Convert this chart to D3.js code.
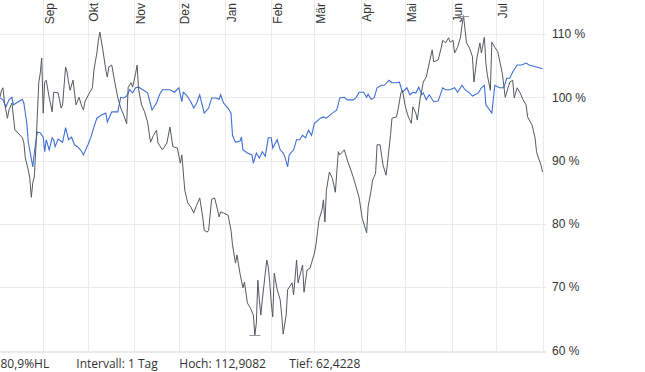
<!DOCTYPE html>
<html>
<head>
<meta charset="utf-8">
<script src="https://cdn.jsdelivr.net/npm/d3@7"></script>
<style>
  body { margin: 0; background: #fff; }
  svg { display: block; }
</style>
</head>
<body>
<div id="chart"></div>
<script>
"use strict"

/* month ticks on the time axis */
let monthTicks = ["2023-09-01", "2023-10-01", "2023-11-01", "2023-12-01", "2024-01-01", "2024-02-01",
  "2024-03-01", "2024-04-01", "2024-05-01", "2024-06-01", "2024-07-01"];
let monthLabels = ["Sep", "Okt", "Nov", "Dez", "Jan", "Feb", "Mär", "Apr", "Mai", "Jun", "Jul"];

/* percent ticks */
let yTicks = [60, 70, 80, 90, 100, 110];

/* stock, in percent (dark line) */
let stockSeries = [
  ["2023-08-03", 100.0], ["2023-08-04", 101.1], ["2023-08-05", 101.5], ["2023-08-06", 99.1],
  ["2023-08-08", 96.7], ["2023-08-09", 98.0], ["2023-08-11", 99.1], ["2023-08-12", 96.9],
  ["2023-08-13", 94.8], ["2023-08-15", 94.4], ["2023-08-18", 93.6], ["2023-08-19", 92.8],
  ["2023-08-20", 90.4], ["2023-08-22", 88.5], ["2023-08-23", 87.2], ["2023-08-24", 84.2],
  ["2023-08-25", 86.5], ["2023-08-26", 87.4], ["2023-08-27", 91.7], ["2023-08-28", 96.9],
  ["2023-08-29", 102.3], ["2023-08-30", 103.8], ["2023-08-31", 106.2], ["2023-09-01", 97.5],
  ["2023-09-02", 102.4], ["2023-09-03", 102.7], ["2023-09-05", 100.0], ["2023-09-07", 97.7],
  ["2023-09-08", 100.8], ["2023-09-11", 100.7], ["2023-09-13", 98.3], ["2023-09-14", 98.8],
  ["2023-09-16", 104.8], ["2023-09-17", 104.0], ["2023-09-18", 102.4], ["2023-09-19", 101.1],
  ["2023-09-21", 102.7], ["2023-09-22", 100.7], ["2023-09-23", 98.8], ["2023-09-25", 100.0],
  ["2023-09-27", 98.5], ["2023-09-28", 98.0], ["2023-09-29", 99.3], ["2023-10-02", 100.7],
  ["2023-10-04", 101.5], ["2023-10-05", 104.3], ["2023-10-07", 107.0], ["2023-10-08", 109.0],
  ["2023-10-09", 110.3], ["2023-10-11", 107.5], ["2023-10-13", 104.3], ["2023-10-14", 103.2],
  ["2023-10-15", 104.8], ["2023-10-17", 105.1], ["2023-10-19", 102.4], ["2023-10-21", 100.0],
  ["2023-10-23", 98.3], ["2023-10-25", 97.2], ["2023-10-27", 95.8], ["2023-10-28", 101.6],
  ["2023-10-30", 102.3], ["2023-10-31", 101.6], ["2023-11-02", 103.8], ["2023-11-03", 105.1],
  ["2023-11-04", 101.2], ["2023-11-06", 98.8], ["2023-11-08", 97.7], ["2023-11-10", 96.1],
  ["2023-11-12", 92.9], ["2023-11-14", 94.0], ["2023-11-16", 94.8], ["2023-11-17", 92.8],
  ["2023-11-20", 91.7], ["2023-11-23", 92.8], ["2023-11-25", 95.3], ["2023-11-27", 92.2],
  ["2023-11-30", 92.0], ["2023-12-02", 89.6], ["2023-12-03", 90.9], ["2023-12-05", 85.3],
  ["2023-12-07", 83.3], ["2023-12-09", 82.7], ["2023-12-11", 81.7], ["2023-12-13", 83.0],
  ["2023-12-15", 84.1], ["2023-12-17", 81.1], ["2023-12-18", 79.0], ["2023-12-20", 78.7],
  ["2023-12-21", 79.0], ["2023-12-23", 83.9], ["2023-12-25", 84.1], ["2023-12-27", 82.2],
  ["2023-12-28", 81.1], ["2023-12-29", 81.9], ["2023-12-31", 81.7], ["2024-01-03", 81.4],
  ["2024-01-05", 79.0], ["2024-01-06", 76.7], ["2024-01-08", 73.8], ["2024-01-09", 75.1],
  ["2024-01-11", 72.2], ["2024-01-13", 69.9], ["2024-01-14", 70.8], ["2024-01-16", 67.5],
  ["2024-01-18", 66.7], ["2024-01-20", 65.6], ["2024-01-21", 62.4228], ["2024-01-22", 64.3],
  ["2024-01-23", 71.1], ["2024-01-24", 68.0], ["2024-01-25", 65.6], ["2024-01-26", 68.0],
  ["2024-01-28", 72.2], ["2024-01-29", 74.3], ["2024-01-30", 73.2], ["2024-01-31", 70.7],
  ["2024-02-01", 67.5], ["2024-02-02", 65.3], ["2024-02-03", 72.2], ["2024-02-05", 69.6],
  ["2024-02-07", 68.0], ["2024-02-08", 65.6], ["2024-02-09", 62.6], ["2024-02-11", 65.6],
  ["2024-02-12", 69.6], ["2024-02-15", 70.7], ["2024-02-16", 68.8], ["2024-02-18", 74.3],
  ["2024-02-19", 70.7], ["2024-02-22", 73.5], ["2024-02-23", 69.2], ["2024-02-25", 72.7],
  ["2024-02-27", 73.0], ["2024-02-28", 73.8], ["2024-03-01", 75.4], ["2024-03-02", 76.7],
  ["2024-03-04", 80.6], ["2024-03-06", 82.2], ["2024-03-07", 83.8], ["2024-03-08", 80.3],
  ["2024-03-09", 85.3], ["2024-03-11", 88.2], ["2024-03-13", 87.2], ["2024-03-15", 85.0],
  ["2024-03-17", 91.4], ["2024-03-18", 90.9], ["2024-03-21", 91.7], ["2024-03-23", 90.1],
  ["2024-03-27", 87.4], ["2024-03-31", 84.1], ["2024-04-02", 80.9], ["2024-04-05", 78.6],
  ["2024-04-06", 82.7], ["2024-04-08", 85.3], ["2024-04-09", 86.9], ["2024-04-11", 88.0],
  ["2024-04-12", 92.5], ["2024-04-14", 92.5], ["2024-04-16", 89.3], ["2024-04-18", 87.7],
  ["2024-04-19", 89.6], ["2024-04-21", 94.0], ["2024-04-22", 96.7], ["2024-04-25", 96.9],
  ["2024-04-26", 98.0], ["2024-04-28", 100.7], ["2024-04-29", 101.1], ["2024-05-01", 98.5],
  ["2024-05-03", 96.9], ["2024-05-05", 95.9], ["2024-05-06", 98.5], ["2024-05-08", 97.5],
  ["2024-05-09", 96.4], ["2024-05-11", 100.0], ["2024-05-12", 101.1], ["2024-05-13", 102.4],
  ["2024-05-15", 103.2], ["2024-05-17", 105.4], ["2024-05-19", 107.5], ["2024-05-20", 105.6],
  ["2024-05-23", 105.9], ["2024-05-25", 107.8], ["2024-05-26", 109.0], ["2024-05-28", 108.6],
  ["2024-05-30", 109.4], ["2024-05-31", 108.7], ["2024-06-02", 109.0], ["2024-06-03", 107.0],
  ["2024-06-05", 107.9], ["2024-06-07", 109.5], ["2024-06-08", 111.4], ["2024-06-09", 112.9082],
  ["2024-06-11", 108.6], ["2024-06-13", 107.8], ["2024-06-15", 106.4], ["2024-06-16", 102.4],
  ["2024-06-18", 106.2], ["2024-06-20", 108.6], ["2024-06-21", 107.0], ["2024-06-23", 109.5],
  ["2024-06-24", 105.4], ["2024-06-25", 103.5], ["2024-06-27", 101.1], ["2024-06-28", 108.7],
  ["2024-06-30", 107.9], ["2024-07-02", 107.2], ["2024-07-05", 103.8], ["2024-07-07", 100.0],
  ["2024-07-10", 102.4], ["2024-07-12", 102.7], ["2024-07-13", 99.9], ["2024-07-15", 101.5],
  ["2024-07-17", 100.7], ["2024-07-19", 99.6], ["2024-07-21", 98.8], ["2024-07-22", 96.9],
  ["2024-07-25", 95.6], ["2024-07-27", 93.6], ["2024-07-28", 91.4], ["2024-07-29", 90.6],
  ["2024-07-31", 89.3], ["2024-08-01", 88.2]
];

/* benchmark, in percent (blue line) */
let benchSeries = [
  ["2023-08-03", 99.9], ["2023-08-05", 99.6], ["2023-08-07", 98.5], ["2023-08-09", 99.6],
  ["2023-08-11", 100.0], ["2023-08-12", 98.8], ["2023-08-14", 99.1], ["2023-08-18", 99.7],
  ["2023-08-19", 99.1], ["2023-08-21", 95.9], ["2023-08-22", 92.9], ["2023-08-25", 89.0],
  ["2023-08-26", 91.2], ["2023-08-28", 94.5], ["2023-08-30", 94.4], ["2023-09-01", 93.7],
  ["2023-09-02", 91.4], ["2023-09-03", 93.3], ["2023-09-05", 91.7], ["2023-09-07", 93.6],
  ["2023-09-08", 93.3], ["2023-09-09", 92.2], ["2023-09-11", 93.4], ["2023-09-14", 92.9],
  ["2023-09-16", 95.2], ["2023-09-18", 93.3], ["2023-09-20", 93.7], ["2023-09-22", 92.5],
  ["2023-09-24", 92.2], ["2023-09-26", 91.7], ["2023-09-28", 90.9], ["2023-10-01", 92.5],
  ["2023-10-03", 93.7], ["2023-10-05", 95.3], ["2023-10-07", 96.7], ["2023-10-10", 97.2],
  ["2023-10-13", 97.5], ["2023-10-14", 96.1], ["2023-10-17", 97.7], ["2023-10-20", 97.7],
  ["2023-10-21", 97.7], ["2023-10-23", 100.0], ["2023-10-25", 99.9], ["2023-10-27", 100.2],
  ["2023-10-29", 101.2], ["2023-10-31", 100.7], ["2023-11-02", 101.5], ["2023-11-04", 101.6],
  ["2023-11-06", 101.3], ["2023-11-10", 100.7], ["2023-11-13", 98.0], ["2023-11-16", 99.1],
  ["2023-11-18", 100.4], ["2023-11-20", 101.2], ["2023-11-25", 101.2], ["2023-11-28", 100.8],
  ["2023-12-01", 101.5], ["2023-12-03", 99.3], ["2023-12-04", 100.8], ["2023-12-06", 100.4],
  ["2023-12-09", 99.3], ["2023-12-11", 98.3], ["2023-12-13", 99.1], ["2023-12-15", 100.4],
  ["2023-12-17", 98.5], ["2023-12-18", 97.5], ["2023-12-21", 98.3], ["2023-12-23", 99.9],
  ["2023-12-26", 99.9], ["2023-12-28", 99.7], ["2023-12-29", 100.4], ["2023-12-31", 99.1],
  ["2024-01-03", 98.3], ["2024-01-05", 97.5], ["2024-01-06", 94.0], ["2024-01-08", 92.9],
  ["2024-01-11", 93.1], ["2024-01-12", 93.7], ["2024-01-13", 91.7], ["2024-01-16", 91.2],
  ["2024-01-19", 90.9], ["2024-01-20", 89.6], ["2024-01-22", 91.2], ["2024-01-24", 90.4],
  ["2024-01-26", 91.4], ["2024-01-28", 90.7], ["2024-01-30", 93.6], ["2024-02-01", 93.6],
  ["2024-02-02", 92.0], ["2024-02-05", 93.3], ["2024-02-07", 91.7], ["2024-02-09", 91.2],
  ["2024-02-10", 90.7], ["2024-02-12", 89.0], ["2024-02-13", 90.9], ["2024-02-16", 91.7],
  ["2024-02-18", 93.3], ["2024-02-20", 93.3], ["2024-02-22", 94.0], ["2024-02-24", 93.6],
  ["2024-02-26", 94.8], ["2024-02-28", 94.0], ["2024-03-01", 95.9], ["2024-03-05", 96.7],
  ["2024-03-07", 96.9], ["2024-03-09", 96.7], ["2024-03-13", 97.5], ["2024-03-16", 98.0],
  ["2024-03-18", 99.9], ["2024-03-21", 100.0], ["2024-03-23", 99.6], ["2024-03-27", 99.6],
  ["2024-03-29", 100.0], ["2024-03-31", 100.8], ["2024-04-03", 100.8], ["2024-04-05", 100.0],
  ["2024-04-06", 100.5], ["2024-04-08", 99.7], ["2024-04-10", 99.9], ["2024-04-12", 101.5],
  ["2024-04-15", 101.9], ["2024-04-17", 101.9], ["2024-04-20", 102.7], ["2024-04-22", 102.3],
  ["2024-04-25", 102.3], ["2024-04-27", 102.4], ["2024-04-29", 100.8], ["2024-05-02", 101.5],
  ["2024-05-04", 100.4], ["2024-05-06", 100.8], ["2024-05-08", 100.7], ["2024-05-10", 101.6],
  ["2024-05-12", 100.4], ["2024-05-13", 100.7], ["2024-05-15", 99.6], ["2024-05-17", 100.4],
  ["2024-05-20", 99.3], ["2024-05-23", 99.4], ["2024-05-26", 101.5], ["2024-05-28", 101.2],
  ["2024-05-31", 101.2], ["2024-06-03", 101.5], ["2024-06-05", 100.8], ["2024-06-08", 101.9],
  ["2024-06-10", 101.2], ["2024-06-13", 100.7], ["2024-06-15", 100.2], ["2024-06-19", 100.7],
  ["2024-06-21", 101.5], ["2024-06-23", 101.9], ["2024-06-24", 98.8], ["2024-06-28", 97.5],
  ["2024-06-30", 101.9], ["2024-07-03", 101.5], ["2024-07-06", 101.5], ["2024-07-08", 103.0],
  ["2024-07-10", 103.0], ["2024-07-12", 104.0], ["2024-07-15", 105.1], ["2024-07-18", 105.1],
  ["2024-07-21", 105.4], ["2024-07-23", 105.1], ["2024-07-28", 104.8], ["2024-08-01", 104.5]
];

/* footer texts */
let footerTexts = ["80,9%HL", "Intervall: 1 Tag", "Hoch: 112,9082", "Tief: 62,4228"];

let parseDate = d3.timeParse("%Y-%m-%d");
let stock = stockSeries.map(d => ({ date: parseDate(d[0]), value: d[1] }));
let bench = benchSeries.map(d => ({ date: parseDate(d[0]), value: d[1] }));

let drawing = d3.select("#chart")
  .append("svg")
  .attr("width", 645)
  .attr("height", 372);

/* scales */
let x = d3.scaleTime()
  .domain([parseDate("2023-08-03"), parseDate("2024-08-02")])
  .range([0, 544]);

let y = d3.scaleLinear()
  .domain([60, 110])
  .range([350.5, 34]);

let gridColor = "#ebebeb";

/* horizontal grid */
drawing.append("g")
  .selectAll("line")
  .data(yTicks)
  .join("line")
  .attr("x1", 0)
  .attr("x2", 546)
  .attr("y1", d => Math.round(y(d)) + 0.5)
  .attr("y2", d => Math.round(y(d)) + 0.5)
  .attr("stroke", gridColor);

/* bottom axis line */
drawing.append("line")
  .attr("x1", 0).attr("x2", 546)
  .attr("y1", 352.5).attr("y2", 352.5)
  .attr("stroke", gridColor);

/* vertical grid, one line per month */
drawing.append("g")
  .selectAll("line")
  .data(monthTicks)
  .join("line")
  .attr("x1", d => Math.round(x(parseDate(d))) + 0.5)
  .attr("x2", d => Math.round(x(parseDate(d))) + 0.5)
  .attr("y1", 0)
  .attr("y2", 353)
  .attr("stroke", gridColor);

/* right border */
drawing.append("line")
  .attr("x1", 543.5).attr("x2", 543.5)
  .attr("y1", 0).attr("y2", 353)
  .attr("stroke", gridColor);

/* month labels, rotated */
drawing.append("g")
  .selectAll("text")
  .data(monthTicks)
  .join("text")
  .attr("transform", d => "translate(" + (x(parseDate(d)) + 10.5) + ",3) rotate(-90)")
  .attr("text-anchor", "end")
  .attr("font-family", "'Liberation Sans', Arial, sans-serif")
  .attr("font-size", 12)
  .attr("fill", "#333")
  .text((d, i) => monthLabels[i]);

/* percent labels */
drawing.append("g")
  .selectAll("text")
  .data(yTicks)
  .join("text")
  .attr("x", 552)
  .attr("y", d => y(d))
  .attr("dy", "0.35em")
  .attr("font-family", "'Liberation Sans', Arial, sans-serif")
  .attr("font-size", 12)
  .attr("fill", "#333")
  .text(d => d + " %");

let line = d3.line()
  .x(d => x(d.date))
  .y(d => y(d.value));

/* benchmark line */
drawing.append("path")
  .datum(bench)
  .attr("d", line)
  .attr("fill", "none")
  .attr("stroke", "#3f6fd8")
  .attr("stroke-width", 1.1);

/* stock line */
drawing.append("path")
  .datum(stock)
  .attr("d", line)
  .attr("fill", "none")
  .attr("stroke", "#535a60")
  .attr("stroke-width", 1);

/* high / low markers */
let high = stock.reduce((a, b) => (b.value > a.value ? b : a));
let low = stock.reduce((a, b) => (b.value < a.value ? b : a));

drawing.append("g")
  .selectAll("line")
  .data([high, low])
  .join("line")
  .attr("x1", d => x(d.date) - 5.5)
  .attr("x2", d => x(d.date) + 5.5)
  .attr("y1", d => Math.round(y(d.value)) + 0.5)
  .attr("y2", d => Math.round(y(d.value)) + 0.5)
  .attr("stroke", "#999");

/* footer */
let footerX = [0.5, 76.3, 179.3, 289.3];
drawing.append("g")
  .selectAll("text")
  .data(footerTexts)
  .join("text")
  .attr("x", (d, i) => footerX[i])
  .attr("y", 367.5)
  .attr("font-family", "'Open Sans', sans-serif")
  .attr("font-size", 12)
  .attr("fill", "#333")
  .text(d => d);
</script>
</body>
</html>
